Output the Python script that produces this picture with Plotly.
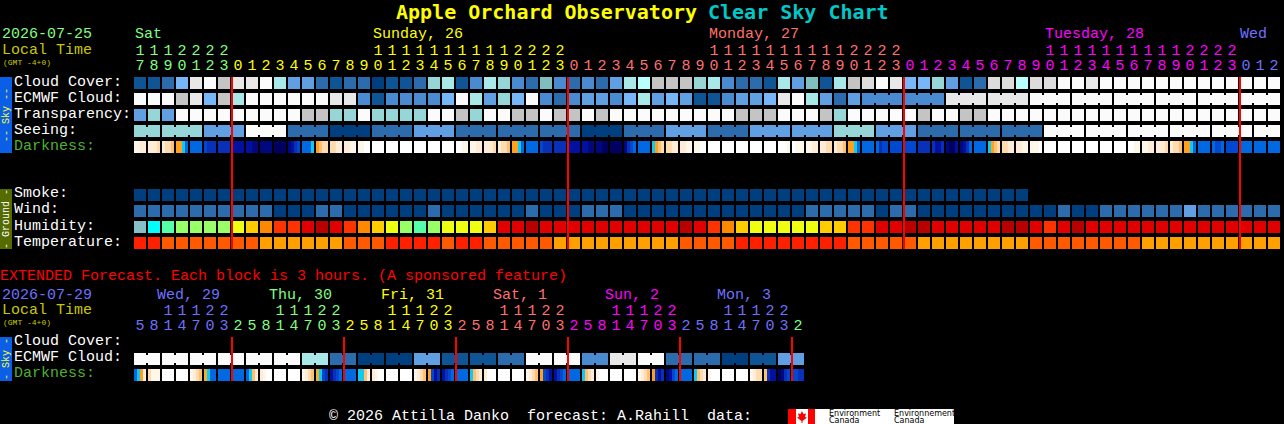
import plotly.graph_objects as go

# Chart data: one character per block, see the palettes below
HOURS = [17, 18, 19, 20, 21, 22, 23] + list(range(24)) * 3 + [0, 1, 2]
DAY_NAMES = ["Sat", "Sunday, 26", "Monday, 27", "Tuesday, 28", "Wed"]
CLOUD_COVER = ("11259X899X" "7442122011" "267137632D" "323247B888" "67322174D1"
               "78LX955641" "2LLBLLXX9X" "XXXXXXXXXXXX")
ECMWF_CLOUD = ("XXX89587XX" "XXXX993133" "335X7465X3" "2344357454" "1134459X74"
               "2433333399" "9999XXXXXX" "XXXXXXXXXXXX")
TRANSPARENCY = ("464XXXXXXX" "XX8866X666" "6XX86XX88X" "88X8XXXXXX" "XXX888XXX8"
                "6XXXXX8XX8" "8XXXXXXXXX" "XXXXXXXXXXXX")
SEEING = ("66" "666" "444" "XXX" "222" "000" "222" "444" "222" "222" "222" "000" "222" "444"
          "222" "444" "444" "666" "444" "222" "222" "222" "XXX" "XXX" "XXX" "XXX" "XXX" "XX")
DARKNESS = ["aabb", "bbbc", "bccd", "eegh", "hhhh", "ijjj", "jjjj", "kkkk", "kkll", "llll", "mmmm", "lkji", "hhhg", "edcc",
            "ccbb", "bbaa", "aaWW", "WWWW", "WWWW", "WWWW", "WWWW", "WWWW", "WWWW", "WWaa", "aabb", "bbbc", "bccd", "eegh",
            "hhhh", "ijjj", "jjjj", "kkkk", "kkll", "llmm", "mmmm", "ljih", "hhhh", "gedc", "ccbb", "bbaa", "aaWW", "WWWW",
            "WWWW", "WWWW", "WWWW", "WWWW", "WWWa", "Waaa", "aabb", "bbcc", "bccd", "eegh", "hhhh", "hjii", "iiii", "iiii",
            "jjjj", "jkkj", "lmmk", "lkjh", "hhhh", "gedc", "ccbb", "bbaa", "aaaW", "WWWW", "WWWW", "WWWW", "WWWW", "WWWW",
            "WWWW", "WWaa", "aabb", "bbbc", "bccd", "eegh", "hhhh", "hiih", "iiii", "hhhh", "hhhh", "hhhh"]
SMOKE = "0000000000000000000000000000000000000000000000000000000000000000"
WIND = ("2222222222" "000" "22" "000000" "2" "000000" "2" "000" "222" "0000000000000"
        "22222" "0" "22" "0000000000" "2" "00" "222222" "4" "222222")
HUMIDITY = ("TCMLLLLYAORRrDrROAYLM" "LYYYArrDrrrrrrrrrrDrROAYYYYYAAR"
            "RrrDDrrrrrDDrRrD" "rrrrrrrrrrrrrr")
TEMPERATURE = ("rr" "ooooooo" "aaaaaa" "ooo" "rrrr" "o" "rr" "ooooo" "aaaaaaaaa" "oooo" "rrrrrrrr"
               "ooooo" "aaaaaaaa" "oooooooo" "aaaaaaaaaa")

EXT_HOURS = [5, 8, 11, 14, 17, 20, 23] + [2, 5, 8, 11, 14, 17, 20, 23] * 5 + [2]
EXT_DAY_NAMES = ["Wed, 29", "Thu, 30", "Fri, 31", "Sat, 1", "Sun, 2", "Mon, 3"]
EXT_ECMWF = "XXXXXXXXXXXX" "77" "22" "00" "00" "44" "11" "11" "22" "XX" "XX" "33" "99" "XX" "22" "22" "00" "11" "44"
EXT_DARKNESS = ["hgeb", "caaa", "WWWW", "WWWW", "abcd", "fghh", "hhhh", "hhhh",
                "hgdb", "baWW", "WWWW", "WWWW", "abcd", "fgij", "kjih", "hhhh",
                "ggdb", "baWW", "WWWW", "WWWW", "abcd", "eikj", "kjih", "hhhh",
                "gdcb", "bWWW", "WWWW", "WWWW", "abcd", "eijk", "kjih", "hhhh",
                "gdcb", "aWWW", "WWWW", "WWWW", "abcd", "ejkj", "lkih", "hhhh",
                "gdcb", "aWWW", "WWWW", "WWWW", "abcc", "djkk", "mlji", "iijj"]

# Blocks that share one forecast value get joined
SEEING_BLOCKS = [2] + [3] * 26 + [2]
ECMWF_BLOCKS = [1] * 52 + [3] * 10
EXT_ECMWF_BLOCKS = [2] * 24

# Colours
SKY = {"0": "#003f7f", "1": "#0f5595", "2": "#2c6cac", "3": "#4a8ad0", "4": "#5f9fe2", "5": "#77b7f7",
       "6": "#96d6d6", "D": "#7fbfbf", "7": "#a8e8e8", "B": "#b8ffff", "8": "#c4c4c4", "L": "#dcdcdc",
       "9": "#e8e8e8", "X": "#fbfbfb"}
DARK = {"W": "#ffffff", "a": "#fff6ea", "b": "#ffecd6", "c": "#ffdcb0", "d": "#ffc070", "e": "#ffa020",
        "f": "#f0b030", "g": "#10c8f0", "h": "#0068e0", "i": "#0048d0", "j": "#0830b8", "k": "#0010a0",
        "l": "#000880", "m": "#000060"}
HUM = {"T": "#88c0c8", "C": "#00ffff", "M": "#55ffaa", "L": "#99ff66", "Y": "#eeff11", "A": "#ffcc00",
       "O": "#ff8800", "R": "#ff3300", "r": "#e00000", "D": "#b80000"}
TEMP = {"r": "#ff2000", "o": "#ff5a00", "a": "#ffa000"}

PALETTE = [SKY, DARK, HUM, TEMP]
ALL_COLORS = [c for p in PALETTE for c in p.values()]
COLORSCALE = []
for i, c in enumerate(ALL_COLORS):
    COLORSCALE += [[i / len(ALL_COLORS), c], [(i + 1) / len(ALL_COLORS), c]]


def code(pal, ch):
    return ALL_COLORS.index(pal[ch]) + 0.5


MONO = "Liberation Mono"
CELL = 12 / 14  # share of the 14 px step that is filled
X0 = 134
STEP = 14
W, H = 1284, 424

fig = go.Figure()


def add_heat(x, y, z):
    fig.add_trace(go.Heatmap(x=x, y=y, z=z, colorscale=COLORSCALE, zmin=0, zmax=len(ALL_COLORS),
                             showscale=False, hoverinfo="skip"))


def block_row(codes, pal, top, blocks=None):
    # every block is a filled column plus an empty gap column
    joined = set()
    if blocks:
        n = 0
        for b in blocks:
            joined.update(range(n, n + b - 1))
            n += b
    x, mid, edge = [], [], []
    for n, ch in enumerate(codes):
        x += [n, n + CELL]
        mid += [code(pal, ch), code(pal, ch) if n in joined else None]
        edge += [code(pal, ch), None]
    x.append(len(codes))
    add_heat(x, [top, top + 2, top + 10, top + 12], [edge, mid, edge])


def fine_row(samples, pal, top):
    x, z = [], []
    for n, s in enumerate(samples):
        for k, ch in enumerate(s):
            x.append(n + CELL * k / len(s))
            z.append(code(pal, ch))
        x.append(n + CELL)
        z.append(None)
    x.append(len(samples))
    add_heat(x, [top, top + 12], [z])


def red_lines(hours, step, y0, y1):
    xs, ys = [], []
    for n, h in enumerate(hours):
        if h < step:
            xs += [n, n, None]
            ys += [y0, y1, None]
    fig.add_trace(go.Scatter(x=xs, y=ys, mode="lines", line=dict(color="#ff0000", width=2), hoverinfo="skip"))


def hour_labels(hours, colors, y_tens, y_units):
    x = [n + 6 / 14 for n in range(len(hours))]
    fig.add_trace(go.Scatter(x=x, y=[y_units] * len(hours), mode="text", text=[str(h % 10) for h in hours],
                             textfont=dict(family=MONO, size=15, color=colors), hoverinfo="skip"))
    tens = [(xx, str(h // 10), c) for xx, h, c in zip(x, hours, colors) if h >= 10]
    fig.add_trace(go.Scatter(x=[t[0] for t in tens], y=[y_tens] * len(tens), mode="text", text=[t[1] for t in tens],
                             textfont=dict(family=MONO, size=15, color=[t[2] for t in tens]), hoverinfo="skip"))


def label(px, py, text, color="#ffffff", size=15, family=MONO, angle=0, anchor="left"):
    if anchor == "left":
        px -= 1  # annotations pad their box by one pixel
    fig.add_annotation(xref="paper", yref="paper", x=px / W, y=1 - py / H, text=text, showarrow=False,
                       xanchor=anchor, yanchor="middle", textangle=angle, borderpad=0,
                       font=dict(family=family, size=size, color=color))


def rect(x0, y0, x1, y1, color):
    fig.add_shape(type="rect", xref="paper", yref="paper", x0=x0 / W, x1=x1 / W, y0=1 - y0 / H, y1=1 - y1 / H,
                  fillcolor=color, line_width=0, layer="below")


# Main forecast rows
block_row(CLOUD_COVER, SKY, 77)
block_row(ECMWF_CLOUD, SKY, 93, ECMWF_BLOCKS)
block_row(TRANSPARENCY, SKY, 109)
block_row(SEEING, SKY, 125, SEEING_BLOCKS)
fine_row(DARKNESS, DARK, 141)
block_row(SMOKE, SKY, 189)
block_row(WIND, SKY, 205)
block_row(HUMIDITY, HUM, 221)
block_row(TEMPERATURE, TEMP, 237)
red_lines(HOURS, 1, 77, 249)

# Extended forecast rows
block_row(EXT_ECMWF, SKY, 353, EXT_ECMWF_BLOCKS)
fine_row(EXT_DARKNESS, DARK, 369)
red_lines(EXT_HOURS, 3, 337, 381)

# Hour labels take the colour of their day
GREEN, YELLOW, SALMON, MAGENTA, BLUE = "#80ff80", "#ffff00", "#ff7070", "#ff00ff", "#7070ff"
top_colors = [GREEN] * 7 + [YELLOW] * 24 + [SALMON] * 24 + [MAGENTA] * 24 + [BLUE] * 3
hour_labels(HOURS, top_colors, 51, 66)
ext_colors = [BLUE] * 7 + [GREEN] * 8 + [YELLOW] * 8 + [SALMON] * 8 + [MAGENTA] * 8 + [BLUE] * 8 + [GREEN]
hour_labels(EXT_HOURS, ext_colors, 311, 326)

# Title
label(396, 12, "<b>Apple Orchard Observatory</b>", "#ffff00", 20, "DejaVu Sans Mono")
label(708, 12, "<b>Clear Sky Chart</b>", "#00c8c8", 20, "DejaVu Sans Mono")

# Left column
label(2, 35, "2026-07-25", GREEN)
label(2, 50, "Local Time", "#c8c800")
label(3, 62, "(GMT -4+0)", "#c8c800", 8)
for y, name in zip([82, 98, 114, 130], ["Cloud Cover:", "ECMWF Cloud:", "Transparency:", "Seeing:"]):
    label(14, y, name)
label(14, 146, "Darkness:", "#50b030")
for y, name in zip([194, 210, 226, 242], ["Smoke:", "Wind:", "Humidity:", "Temperature:"]):
    label(14, y, name)

for px, name, c in zip([135, 373, 709, 1045, 1240], DAY_NAMES, [GREEN, YELLOW, SALMON, MAGENTA, BLUE]):
    label(px, 35, name, c)

# Side bars
rect(0, 77, 12, 153, "#0a5fe6")
label(6, 115, "-- Sky --", "#ffff30", 10, angle=-90, anchor="center")
rect(0, 189, 12, 249, "#556b00")
label(6, 219, "- Ground -", "#ffffff", 10, angle=-90, anchor="center")
rect(0, 337, 12, 381, "#0a5fe6")
label(6, 359, "- Sky -", "#ffff30", 10, angle=-90, anchor="center")

# Extended section text
label(0, 276, "EXTENDED Forecast. Each block is 3 hours. (A sponsored feature)", "#ff0000")
label(2, 295, "2026-07-29", BLUE)
label(2, 310, "Local Time", "#c8c800")
label(3, 322, "(GMT -4+0)", "#c8c800", 8)
label(14, 341, "Cloud Cover:")
label(14, 357, "ECMWF Cloud:")
label(14, 373, "Darkness:", "#50b030")
for px, name, c in zip([157, 269, 381, 493, 605, 717], EXT_DAY_NAMES, [BLUE, GREEN, YELLOW, SALMON, MAGENTA, BLUE]):
    label(px, 295, name, c)

# Footer and logo
label(329, 416, "© 2026 Attilla Danko  forecast: A.Rahill  data:")
rect(788, 409, 954, 424, "#ffffff")
rect(788, 409, 796, 424, "#ff0000")
rect(808, 409, 815, 424, "#ff0000")
leaf = [(802, 411), (803.5, 414), (806, 413.5), (805, 417), (807, 417.5), (802.5, 421), (802.5, 423), (801.5, 423),
        (801.5, 421), (797, 417.5), (799, 417), (798, 413.5), (800.5, 414)]
fig.add_shape(type="path", xref="paper", yref="paper", fillcolor="#ff0000", line_width=0,
              path="M " + " L ".join(f"{px / W:.5f},{1 - py / H:.5f}" for px, py in leaf) + " Z")
label(829, 413, "Environment", "#000000", 8, "DejaVu Sans")
label(829, 420.5, "Canada", "#000000", 8, "DejaVu Sans")
label(894, 413, "Environnement", "#000000", 8, "DejaVu Sans")
label(894, 420.5, "Canada", "#000000", 8, "DejaVu Sans")

fig.update_layout(
    width=W, height=H, autosize=False, showlegend=False,
    margin=dict(l=0, r=0, t=0, b=0), paper_bgcolor="#000000", plot_bgcolor="#000000",
    xaxis=dict(range=[-X0 / STEP, (W - X0) / STEP], visible=False, fixedrange=True),
    yaxis=dict(range=[H, 0], visible=False, fixedrange=True),
)

fig.write_html("out.html", config={"displayModeBar": False},
               post_script="document.body.style.margin='0';document.body.style.background='#000';")
